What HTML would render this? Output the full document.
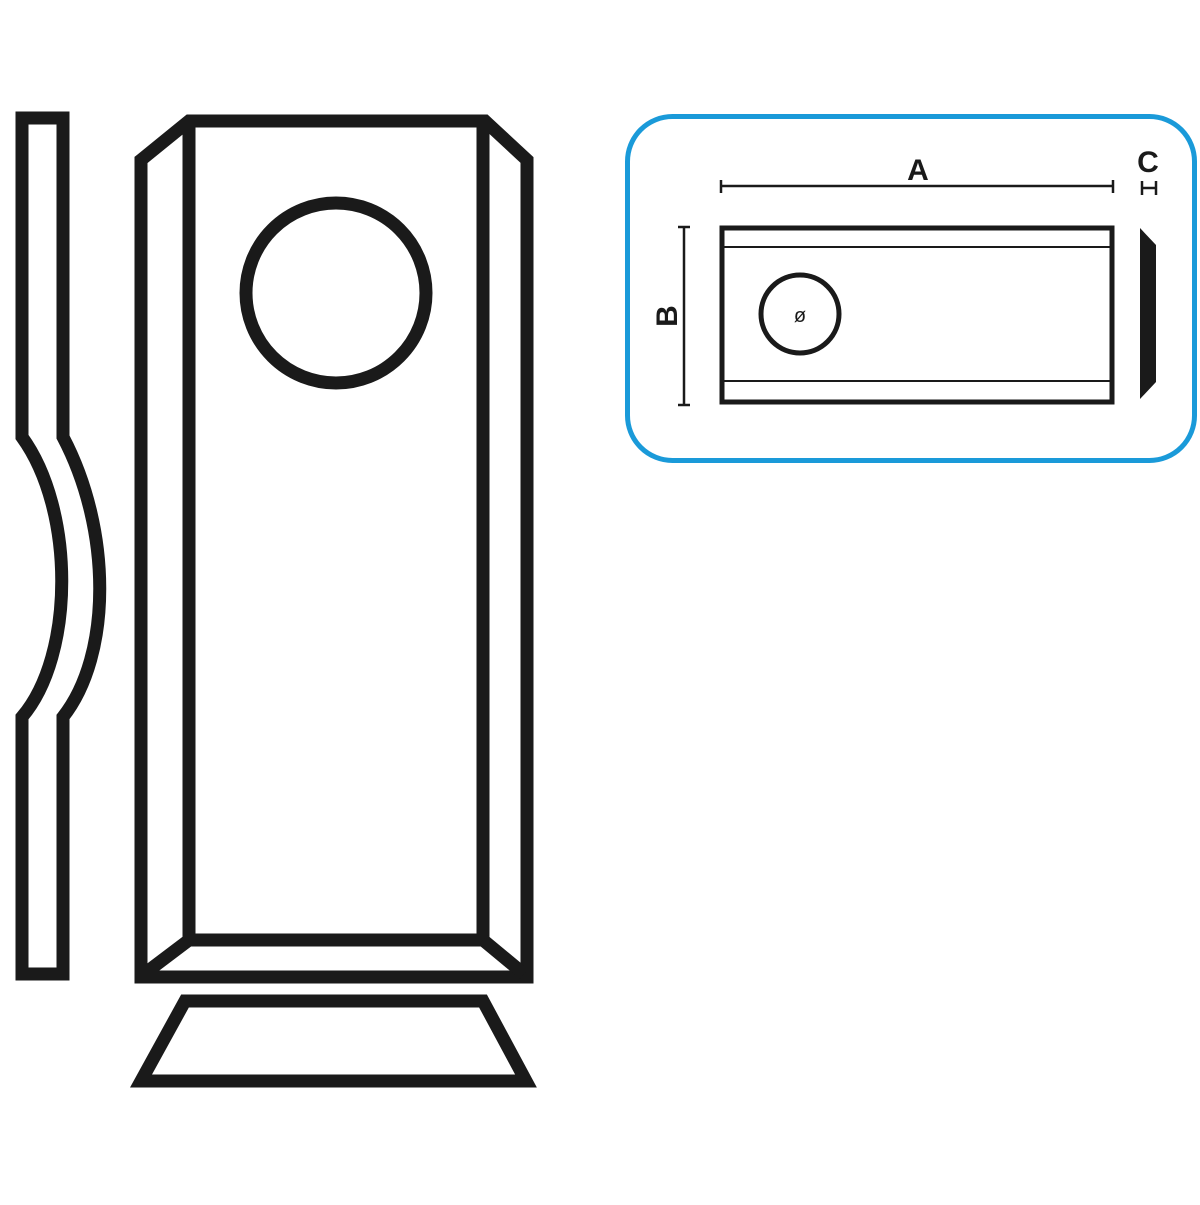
<!DOCTYPE html>
<html><head><meta charset="utf-8"><style>html,body{margin:0;padding:0;background:#fff}</style></head>
<body>
<svg width="1200" height="1200" viewBox="0 0 1200 1200" xmlns="http://www.w3.org/2000/svg">
<g fill="none" stroke="#1a1a1a" stroke-width="13" stroke-linejoin="miter">
<path d="M22,118 L63,118 L63,437 C112,530 112,655 63,717 L63,974 L22,974 L22,717 C75,655 75,510 22,437 Z"/>
<path d="M141,160 L189,121 L485,121 L527,160 L527,977 L141,977 Z"/>
<line x1="189" y1="121" x2="189" y2="940"/>
<line x1="483" y1="121" x2="483" y2="940"/>
<line x1="183" y1="940" x2="489" y2="940"/>
<line x1="189" y1="940" x2="144" y2="974"/>
<line x1="483" y1="940" x2="524" y2="974"/>
<circle cx="336" cy="293" r="90"/>
<path d="M185,1001 L483,1001 L526,1081 L141,1081 Z"/>
</g>
<rect x="627.5" y="116.5" width="567" height="344" rx="45" fill="none" stroke="#1a9ad9" stroke-width="5"/>
<g stroke="#1a1a1a" fill="none">
<rect x="722" y="228" width="390" height="174" stroke-width="5"/>
<line x1="722" y1="247" x2="1112" y2="247" stroke-width="2"/>
<line x1="722" y1="381" x2="1112" y2="381" stroke-width="2"/>
<circle cx="800" cy="314" r="39" stroke-width="5"/>
<line x1="721" y1="186" x2="1113" y2="186" stroke-width="2.5"/>
<line x1="721" y1="180" x2="721" y2="193" stroke-width="2.5"/>
<line x1="1113" y1="180" x2="1113" y2="193" stroke-width="2.5"/>
<line x1="684" y1="227" x2="684" y2="405" stroke-width="2.5"/>
<line x1="678" y1="227" x2="690" y2="227" stroke-width="2.5"/>
<line x1="678" y1="405" x2="690" y2="405" stroke-width="2.5"/>
<line x1="1142" y1="188" x2="1156" y2="188" stroke-width="2.5"/>
<line x1="1142" y1="181" x2="1142" y2="195" stroke-width="2.5"/>
<line x1="1156" y1="181" x2="1156" y2="195" stroke-width="2.5"/>
</g>
<polygon points="1140,228 1156,245 1156,382 1140,399" fill="#1a1a1a"/>
<g font-family="Liberation Sans, sans-serif" font-weight="bold" fill="#1a1a1a">
<text x="918" y="180" font-size="30" text-anchor="middle">A</text>
<text x="1148" y="172" font-size="30" text-anchor="middle">C</text>
<text x="800" y="322" font-size="20" text-anchor="middle" font-weight="normal">ø</text>
<text transform="translate(677,316) rotate(-90)" font-size="30" text-anchor="middle">B</text>
</g>
</svg>
</body></html>
